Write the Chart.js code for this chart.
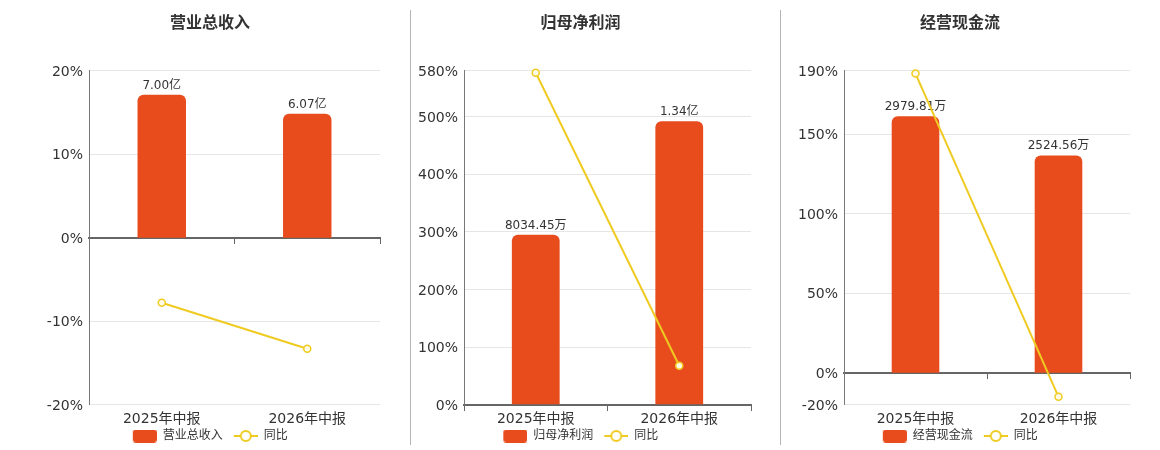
<!DOCTYPE html>
<html><head><meta charset="utf-8">
<script src="https://cdn.jsdelivr.net/npm/chart.js@4.4.1/dist/chart.umd.min.js"></script>
<style>
html,body{margin:0;padding:0;width:1160px;height:450px;overflow:hidden;background:#fff;}
.box{position:absolute;top:0;height:452px;}
.sep{position:absolute;width:1px;background:#b4b4b4;top:10px;height:435px;}
</style></head><body>
<div class="box" style="left:40px;width:342px"><canvas id="c1" width="342" height="452"></canvas></div>
<div class="sep" style="left:410px"></div>
<div class="box" style="left:410px;width:343px"><canvas id="c2" width="343" height="452"></canvas></div>
<div class="sep" style="left:780px"></div>
<div class="box" style="left:790px;width:342px"><canvas id="c3" width="342" height="452"></canvas></div>
<script>
// ---- data ----
const categories = ['2025年中报', '2026年中报'];
const revenueWan = [70000, 60700];
const revenueYoY = [-7.8, -13.3];
const profitWan = [8034.45, 13400];
const profitYoY = [576.5, 67.5];
const cashWan = [2979.81, 2524.56];
const cashYoY = [188.2, -15.1];
const revenueTicks = [-20, -10, 0, 10, 20];
const profitTicks = [0, 100, 200, 300, 400, 500, 580];
const cashTicks = [-20, 0, 50, 100, 150, 190];

// ---- style ----
const BAR = '#E84C1D';
const LINE = '#EFCB22';
const FONT = '"DejaVu Sans", "Noto Sans CJK SC", sans-serif';
Chart.defaults.font.family = FONT;
Chart.defaults.color = '#333';

function fmt(v) {
  return v >= 10000 ? (v / 10000).toFixed(2) + '亿' : v.toFixed(2) + '万';
}

// legend symbols: 33px wide, visible part in the right 24px
function boxImg() {
  const c = document.createElement('canvas'); c.width = 33; c.height = 13;
  const g = c.getContext('2d'); g.fillStyle = BAR;
  g.beginPath(); g.roundRect(9, 0, 24, 13, 3); g.fill();
  return c;
}
function lineImg() {
  const c = document.createElement('canvas'); c.width = 33; c.height = 14;
  const g = c.getContext('2d'); g.strokeStyle = LINE; g.lineWidth = 2;
  g.beginPath(); g.moveTo(9, 7); g.lineTo(33, 7); g.stroke();
  g.beginPath(); g.arc(21, 7, 5, 0, Math.PI * 2); g.fillStyle = '#fff'; g.fill(); g.stroke();
  return c;
}
const IMG_BOX = boxImg(), IMG_LINE = lineImg();

const barLabels = {
  id: 'barLabels',
  afterDatasetDraw(chart, args) {
    if (args.meta.type !== 'bar') return;
    const ctx = chart.ctx;
    ctx.save();
    ctx.font = '12px ' + FONT;
    ctx.fillStyle = '#333';
    ctx.textAlign = 'center';
    ctx.textBaseline = 'alphabetic';
    const ds = chart.data.datasets[args.index];
    args.meta.data.forEach((bar, i) => {
      ctx.fillText(fmt(ds.data[i]), bar.x, bar.y - 6);
    });
    ctx.restore();
  }
};

function noSidePad(s) { s.paddingLeft = 0; s.paddingRight = 0; }

function makeChart(id, title, barName, bars, yoy, ticks, yMin, yMax, y1Min, y1Max, yWidth) {
  new Chart(document.getElementById(id), {
    type: 'bar',
    data: {
      labels: categories,
      datasets: [
        { type: 'bar', label: barName, data: bars, yAxisID: 'y1', order: 1,
          backgroundColor: BAR, borderRadius: 6, borderSkipped: 'start',
          categoryPercentage: 1, barPercentage: 0.333 },
        { type: 'line', label: '同比', data: yoy, yAxisID: 'y', order: 0,
          borderColor: LINE, borderWidth: 2, tension: 0, clip: false,
          pointRadius: 3.5, pointBorderWidth: 1.5, pointBackgroundColor: '#fffbe6',
          pointBorderColor: LINE }
      ]
    },
    options: {
      responsive: false, animation: false, devicePixelRatio: 1,
      layout: { padding: { left: 0, right: 2, top: 0, bottom: 0 }, autoPadding: false },
      plugins: {
        title: { display: true, text: title, color: '#333',
          font: { size: 16, weight: 'bold' }, padding: { top: 14, bottom: 37.5 } },
        legend: { position: 'bottom',
          labels: { usePointStyle: true, pointStyleWidth: 33, boxHeight: 12, padding: 2,
            color: '#333', font: { size: 12 },
            sort: (a, b) => a.datasetIndex - b.datasetIndex,
            generateLabels(chart) {
              const items = Chart.defaults.plugins.legend.labels.generateLabels(chart);
              items.forEach(it => {
                it.pointStyle = it.datasetIndex === 0 ? IMG_BOX : IMG_LINE;
                if (it.datasetIndex === 1) it.text = it.text + '\u2002\u2009';
              });
              return items;
            } } },
        tooltip: { enabled: false }
      },
      scales: {
        x: { type: 'category', position: { y: 0 }, offset: true,
          ticks: { display: false },
          grid: { offset: true, drawOnChartArea: false, drawTicks: true, tickLength: 5, color: '#666', lineWidth: 1 },
          border: { color: '#666', width: 2 },
          afterFit: noSidePad },
        x2: { type: 'category', position: 'bottom', offset: true,
          grid: { display: false, drawTicks: false }, border: { display: false },
          ticks: { padding: 6.6, color: '#333', font: { size: 14 } },
          afterFit(s) { noSidePad(s); s.height = 23.4; } },
        y: { position: 'left', min: yMin, max: yMax,
          afterBuildTicks(s) { s.ticks = ticks.map(v => ({ value: v })); },
          afterFit(s) { s.width = yWidth; },
          ticks: { callback: v => v + '%', color: '#333', font: { size: 14 }, padding: 6, labelOffset: 1.5 },
          grid: { color: '#e6e6e6', drawTicks: false, lineWidth: 1 },
          border: { color: '#777', width: 1 } },
        y1: { display: false, position: 'right', min: y1Min, max: y1Max }
      }
    },
    plugins: [barLabels]
  });
}

makeChart('c1', '营业总收入', '营业总收入', revenueWan, revenueYoY, revenueTicks, -20, 20, -81800, 81800, 49);
makeChart('c2', '归母净利润', '归母净利润', profitWan, profitYoY, profitTicks, 0, 580, 0, 15790, 54);
makeChart('c3', '经营现金流', '经营现金流', cashWan, cashYoY, cashTicks, -20, 190, -369, 3508, 54);
</script>
</body></html>
